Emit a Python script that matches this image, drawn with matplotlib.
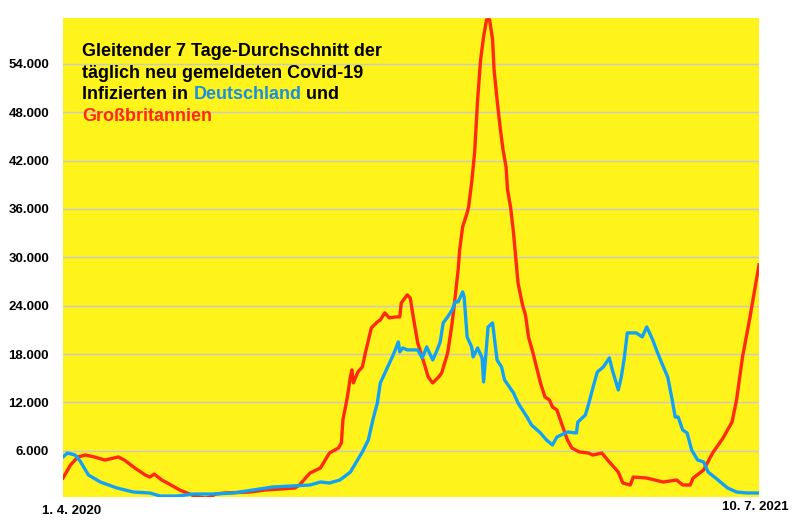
import matplotlib.pyplot as plt

# days since 1.4.2020 and 7-day average of new daily cases
uk_days = [0, 5, 10, 15, 21, 28, 37, 41, 48, 55, 58, 61, 66, 71, 78, 88, 95, 98, 102, 108,
           125, 135, 145, 155, 158, 165, 172, 178, 184, 186, 187, 190, 192, 193, 194, 197, 200,
           202, 206, 210, 212, 215, 218, 222, 225, 226, 230, 232, 234, 237, 241, 244, 247, 251,
           253, 257, 260, 262, 264, 265, 267, 270, 271, 273, 275, 277, 279, 281, 283, 285, 287,
           288, 290, 292, 294, 296, 297, 299, 301, 302, 304, 307, 309, 311, 314, 319, 322, 325,
           327, 330, 333, 337, 340, 345, 351, 354, 360, 365, 371, 374, 379, 381, 390, 401, 410,
           414, 419, 421, 428, 434, 441, 447, 450, 454, 459, 465]
uk_cases = [2610, 4220, 5220, 5460, 5220, 4840, 5220, 4840, 3850, 2980, 2730, 3100, 2360, 1860,
            1120, 370, 120, 250, 620, 750, 870, 1120, 1240, 1370, 1740, 3230, 3850, 5710, 6330,
            6960, 9810, 12670, 15150, 16020, 14410, 15770, 16390, 18130, 21240, 21980, 22230,
            23100, 22480, 22600, 22600, 24340, 25340, 24960, 22600, 19380, 17020, 15150, 14410,
            15150, 15650, 18130, 21860, 25090, 28440, 30930, 33780, 35520, 36270, 39250, 42970,
            49560, 54520, 57380, 59490, 59490, 57010, 53280, 49560, 46200, 43350, 41230, 38380,
            36270, 33040, 30930, 26830, 24090, 22850, 20120, 18130, 14410, 12670, 12300, 11430,
            11050, 9440, 7330, 6330, 5840, 5710, 5460, 5710, 4600, 3350, 1990, 1740, 2730, 2610,
            2110, 2360, 1740, 1740, 2610, 3600, 5710, 7580, 9560, 12300, 17640, 22600, 29060]

de_days = [0, 3, 8, 11, 17, 25, 36, 47, 58, 65, 76, 87, 100, 114, 127, 140, 152, 165, 172, 178,
           185, 192, 196, 200, 204, 207, 210, 212, 216, 220, 222, 224, 225, 227, 230, 233, 237,
           240, 243, 247, 250, 252, 254, 257, 260, 262, 264, 267, 268, 270, 273, 274, 277, 280,
           281, 284, 287, 290, 293, 295, 301, 304, 310, 313, 319, 323, 327, 330, 337, 343, 344,
           349, 351, 354, 357, 361, 365, 367, 371, 373, 375, 377, 383, 387, 390, 394, 397, 400,
           404, 407, 409, 411, 414, 417, 420, 424, 428, 431, 436, 440, 444, 450, 457, 465]
de_cases = [5220, 5710, 5460, 4840, 2980, 2110, 1370, 870, 750, 370, 370, 620, 620, 750, 1120,
            1490, 1610, 1740, 2110, 1990, 2360, 3350, 4600, 5840, 7330, 9810, 11920, 14410,
            16020, 17640, 18510, 19500, 18260, 18750, 18510, 18510, 18510, 17510, 18880, 17260,
            18510, 19500, 21860, 22600, 23470, 24470, 24470, 25710, 25090, 20120, 18880, 17640,
            18750, 17510, 14530, 21360, 21860, 17260, 16390, 14780, 13170, 11920, 10180, 9190,
            8200, 7330, 6710, 7700, 8320, 8200, 9560, 10430, 11670, 13790, 15770, 16390, 17510,
            16020, 13540, 15150, 17510, 20620, 20620, 20120, 21360, 19750, 18260, 16890, 15150,
            12300, 10180, 10180, 8570, 8200, 6090, 4840, 4600, 3350, 2610, 1990, 1370, 870, 750,
            750]

y_ticks = list(range(6000, 54001, 6000))
y_labels = [f"{v // 1000}.000" for v in y_ticks]

yellow = '#fff31c'
red = '#ff2a0a'
blue = '#12a2f5'

fig = plt.figure(figsize=(8, 5.27), dpi=100)
ax = fig.add_axes([0.07875, 0.0569, 0.87, 0.9089])
ax.set_facecolor(yellow)

ax.plot(uk_days, uk_cases, color=red, lw=2.4, solid_joinstyle='round', zorder=3)
ax.plot(de_days, de_cases, color=blue, lw=2.4, solid_joinstyle='round', zorder=4)

ax.set_xlim(0, 465)
ax.set_ylim(250, 59700)
ax.set_yticks(y_ticks)
ax.set_yticklabels(y_labels, fontfamily='Liberation Sans', fontweight='bold', fontsize=9.5)
ax.set_xticks([])
ax.tick_params(axis='y', length=0, pad=10)
ax.grid(axis='y', color='#c9c9c9', lw=1)
ax.set_axisbelow(True)
for s in ax.spines.values():
    s.set_visible(False)

# title, one text per line, country names coloured like their lines
tkw = dict(fontfamily='Liberation Sans', fontweight='bold', fontsize=13)
tx = 0.028
ax.text(tx, 0.9207, "Gleitender 7 Tage-Durchschnitt der", transform=ax.transAxes,
        va='baseline', ha='left', **tkw)
ax.text(tx, 0.8747, "täglich neu gemeldeten Covid-19", transform=ax.transAxes,
        va='baseline', ha='left', **tkw)
t1 = ax.text(tx, 0.8309, "Infizierten in ", transform=ax.transAxes,
             va='baseline', ha='left', **tkw)
t2 = ax.annotate("Deutschland", xy=(1, 0), xycoords=t1, va='bottom', ha='left',
                 color='#1a8fe0', **tkw)
ax.annotate(" und", xy=(1, 0), xycoords=t2, va='bottom', ha='left', **tkw)
ax.text(tx, 0.7850, "Großbritannien", transform=ax.transAxes, va='baseline', ha='left',
        color=red, **tkw)

lkw = dict(fontfamily='Liberation Sans', fontweight='bold', fontsize=9.5)
fig.text(0.0525, 0.03, "1. 4. 2020", ha='left', va='center', **lkw)
fig.text(0.985, 0.038, "10. 7. 2021", ha='right', va='center', **lkw)

fig.savefig('out.png', dpi=100)
